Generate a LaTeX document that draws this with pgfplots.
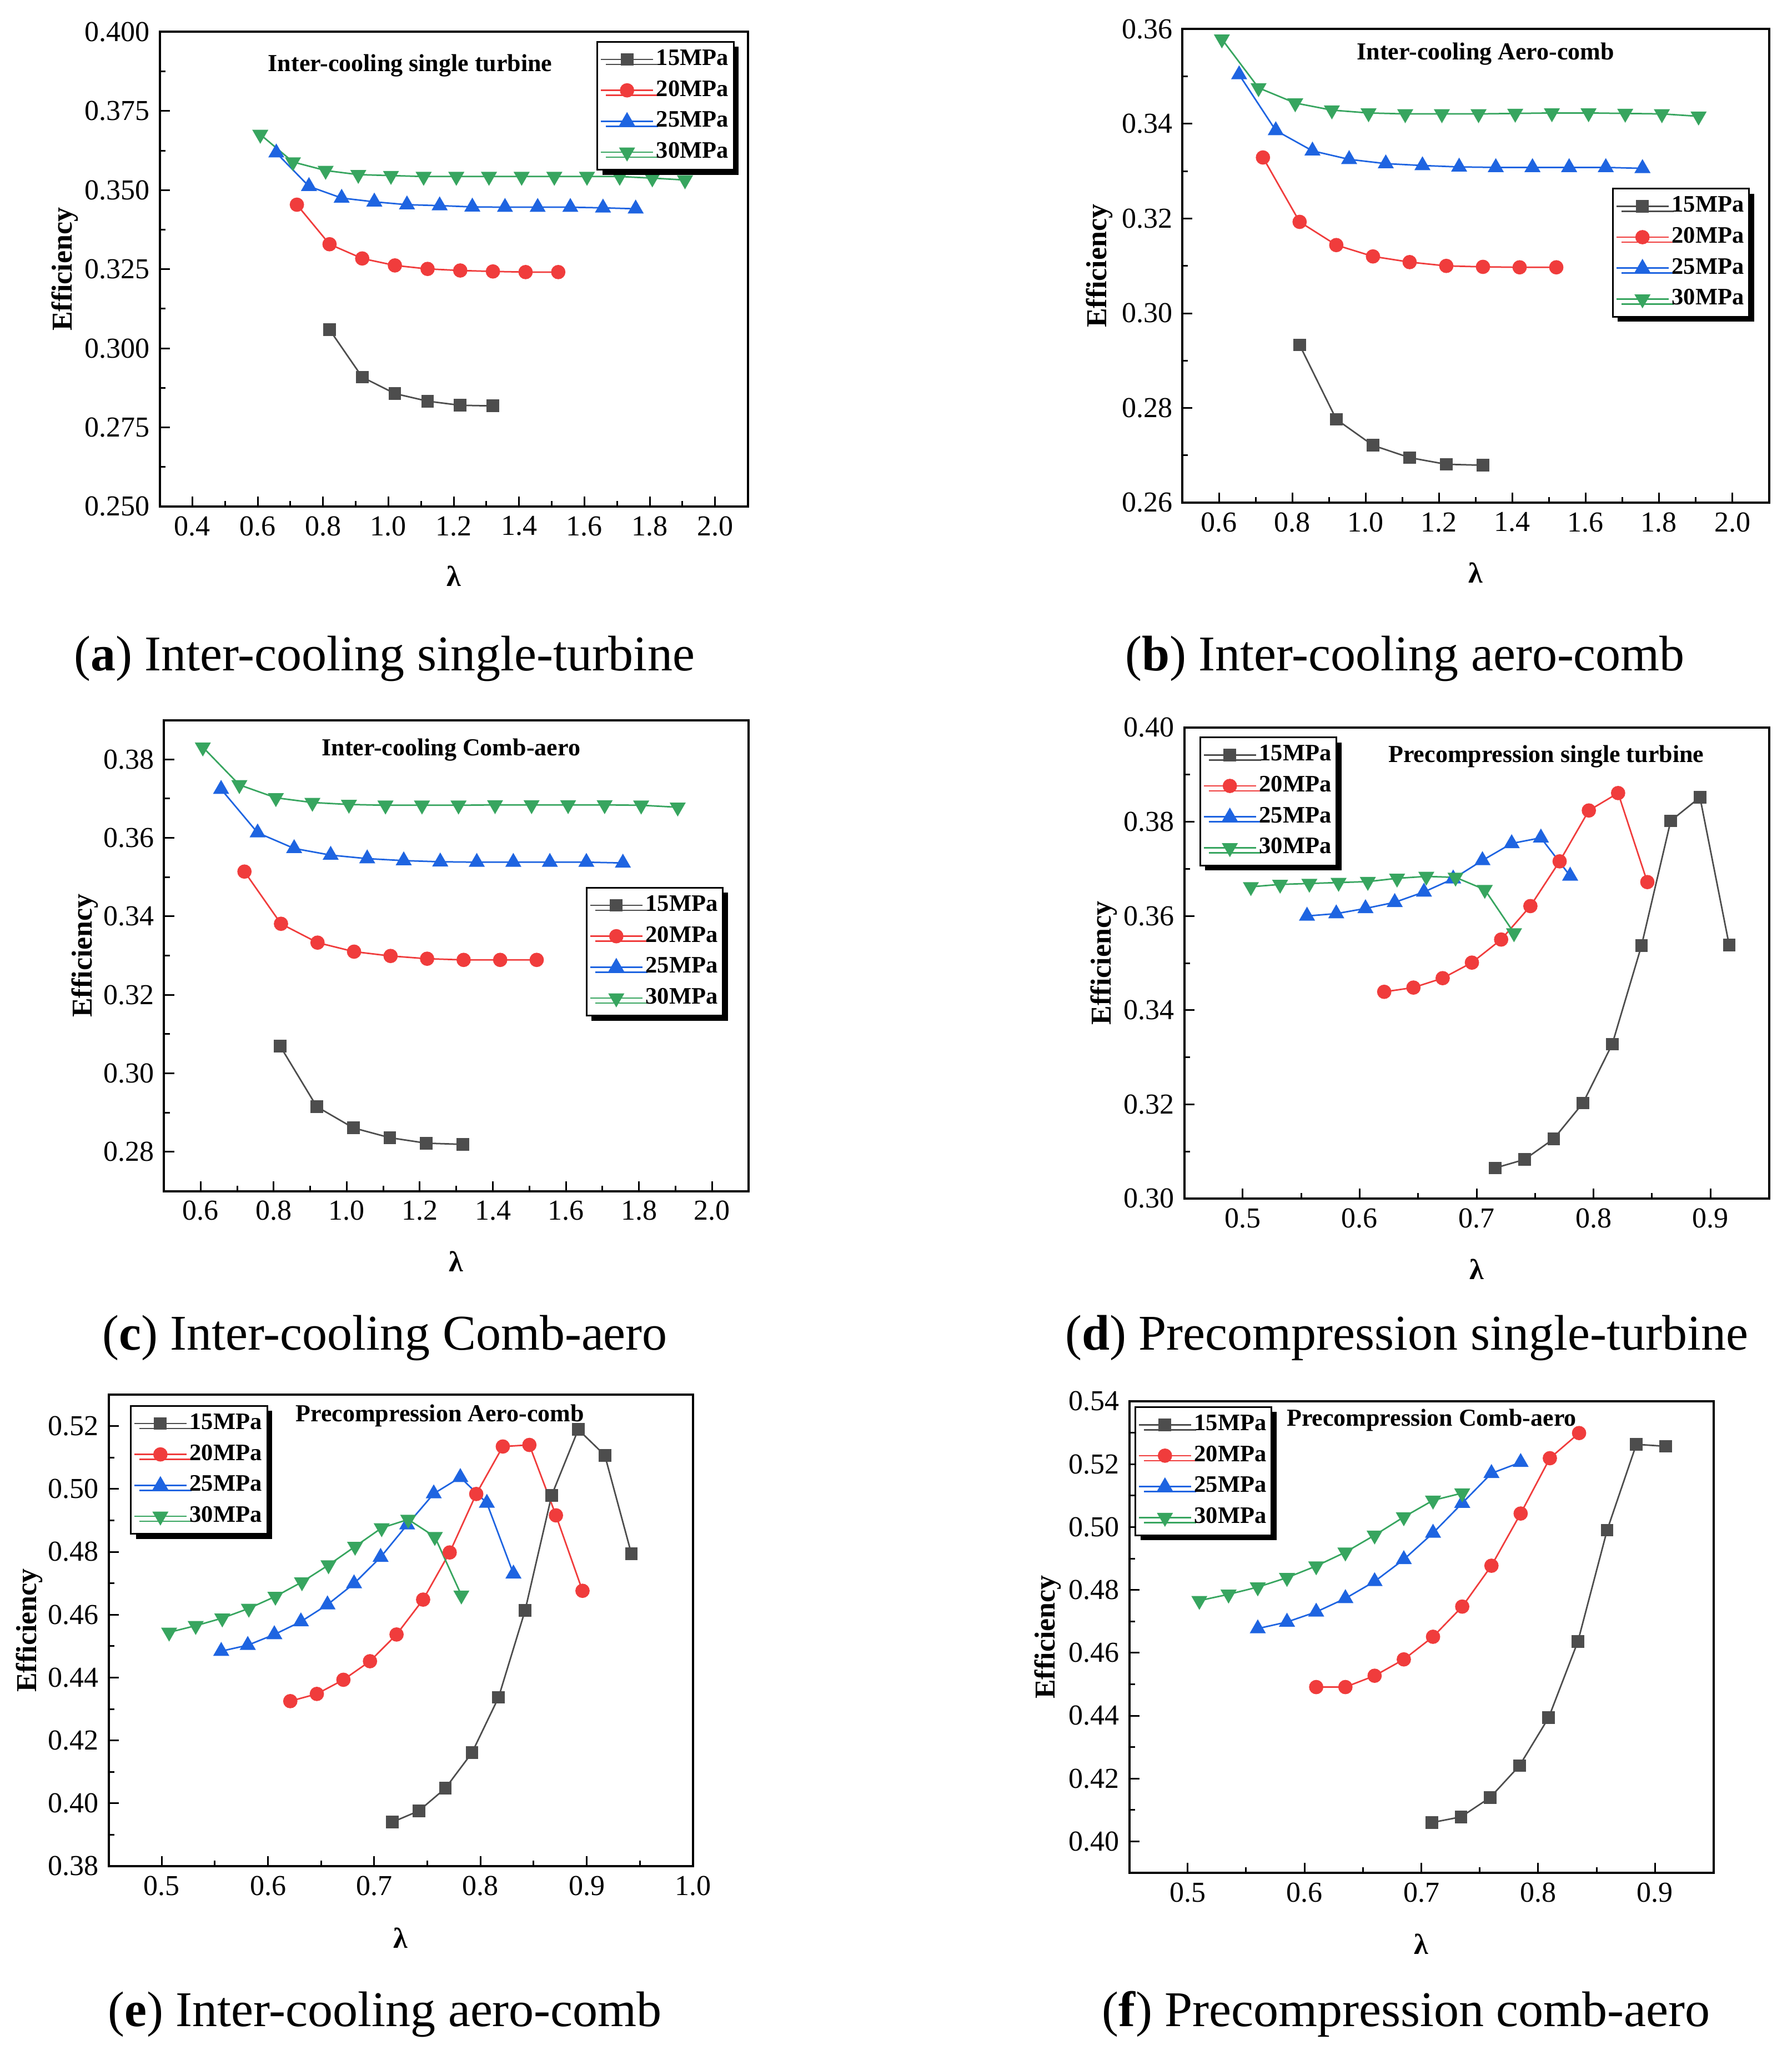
\documentclass[border=0pt]{standalone}
\usepackage{fontspec}
\setmainfont{Liberation Serif}
\usepackage{pgfplots}
\pgfplotsset{compat=1.18}
\usetikzlibrary{shadows}
\definecolor{c15}{RGB}{77,77,77}
\definecolor{c20}{RGB}{240,60,60}
\definecolor{c25}{RGB}{30,100,225}
\definecolor{c30}{RGB}{55,165,95}
\tikzset{ttl/.style={font=\fontsize{8.8}{10}\selectfont\bfseries}}
\pgfplotsset{
  limg/.style={legend image code/.code={\draw[mark repeat=2,mark phase=2,##1] plot coordinates {(0cm,0cm) (0.33cm,0cm) (0.66cm,0cm)};}},
  s15/.style={color=c15, line width=0.55pt, mark=square*, mark size=2.0pt, mark options={solid,fill=c15,draw=c15}, limg},
  s20/.style={color=c20, line width=0.55pt, mark=*, mark size=2.3pt, mark options={solid,fill=c20,draw=c20}, limg},
  s25/.style={color=c25, line width=0.55pt, mark=triangle*, mark size=2.8pt, mark options={solid,fill=c25,draw=c25}, limg},
  s30/.style={color=c30, line width=0.55pt, mark=triangle*, mark size=2.8pt, mark options={solid,fill=c30,draw=c30,rotate=180}, limg},
  myax/.style={
    scale only axis,
    axis line style={line width=0.8pt},
    tick align=inside, xtick pos=bottom, ytick pos=left,
    minor x tick num=1, minor y tick num=1,
    major tick length=3.6pt, minor tick length=2pt,
    tick style={black, line width=0.6pt},
    ticklabel style={font=\fontsize{10.4}{12}\selectfont},
    /pgf/number format/assume math mode=true,
    xticklabel style={/pgf/number format/.cd, fixed, fixed zerofill, precision=1},
    yticklabel style={/pgf/number format/.cd, fixed, fixed zerofill, precision=2},
    xlabel={λ}, ylabel={Efficiency},
    label style={font=\fontsize{10.4}{12}\selectfont\bfseries},
    legend cell align=left,
    legend style={draw=black, line width=0.6pt, fill=white,
      font=\fontsize{8.5}{9}\selectfont\bfseries,
      row sep=0.8pt, inner xsep=1pt, inner ysep=1.2pt, anchor=north west,
      nodes={inner ysep=1.6pt, inner xsep=0.9pt},
      drop shadow={shadow xshift=1.8pt, shadow yshift=-1.8pt, fill=black, opacity=1}},
  },
}
\begin{document}
\begin{tikzpicture}
\useasboundingbox (0,0) rectangle (645.2pt,-738.2pt);
% (a)
\begin{axis}[myax, at={(57.5pt,-182.4pt)}, anchor=south west, width=211.8pt, height=170.9pt,
  xmin=0.3, xmax=2.1, ymin=0.25, ymax=0.40,
  xtick={0.4,0.6,0.8,1.0,1.2,1.4,1.6,1.8,2.0},
  ytick={0.25,0.275,0.3,0.325,0.35,0.375,0.4},
  yticklabel style={/pgf/number format/.cd, fixed, fixed zerofill, precision=3},
  ylabel style={at={(axis description cs:-0.161,0.5)}, anchor=center},
  xlabel style={at={(axis description cs:0.5,-0.147)}, anchor=center},
  legend style={at={(axis description cs:0.743,0.981)}}]
\addplot[s15] coordinates {(0.82,0.3059)(0.92,0.2909)(1.02,0.2857)(1.12,0.2833)(1.22,0.2820)(1.32,0.2818)};
\addplot[s20] coordinates {(0.72,0.3454)(0.82,0.3329)(0.92,0.3284)(1.02,0.3262)(1.12,0.3251)(1.22,0.3246)(1.32,0.3243)(1.42,0.3241)(1.52,0.3241)};
\addplot[s25] coordinates {(0.657,0.3618)(0.757,0.3512)(0.857,0.3475)(0.957,0.3463)(1.057,0.3454)(1.157,0.3451)(1.257,0.3447)(1.357,0.3446)(1.457,0.3446)(1.557,0.3446)(1.657,0.3444)(1.757,0.3441)};
\addplot[s30] coordinates {(0.608,0.3676)(0.708,0.3589)(0.808,0.3562)(0.908,0.3549)(1.008,0.3546)(1.108,0.3543)(1.208,0.3543)(1.308,0.3543)(1.408,0.3543)(1.508,0.3543)(1.608,0.3543)(1.708,0.3543)(1.808,0.3538)(1.908,0.3532)};
\legend{15MPa,20MPa,25MPa,30MPa}
\node[ttl] at (axis description cs:0.426,0.929) {Inter-cooling single turbine};
\end{axis}
% (b)
\begin{axis}[myax, at={(425.8pt,-181pt)}, anchor=south west, width=211.3pt, height=170.5pt,
  xmin=0.5, xmax=2.1, ymin=0.26, ymax=0.36,
  xtick={0.6,0.8,1.0,1.2,1.4,1.6,1.8,2.0},
  ytick={0.26,0.28,0.30,0.32,0.34,0.36},
  ylabel style={at={(axis description cs:-0.141,0.5)}, anchor=center},
  xlabel style={at={(axis description cs:0.5,-0.148)}, anchor=center},
  legend style={at={(axis description cs:0.7325,0.665)}}]
\addplot[s15] coordinates {(0.82,0.2933)(0.92,0.2776)(1.02,0.2721)(1.12,0.2695)(1.22,0.2681)(1.32,0.2679)};
\addplot[s20] coordinates {(0.72,0.3329)(0.82,0.3193)(0.92,0.3144)(1.02,0.3120)(1.12,0.3108)(1.22,0.3100)(1.32,0.3098)(1.42,0.3097)(1.52,0.3097)};
\addplot[s25] coordinates {(0.655,0.3504)(0.755,0.3386)(0.855,0.3343)(0.955,0.3325)(1.055,0.3316)(1.155,0.3312)(1.255,0.3309)(1.355,0.3308)(1.455,0.3308)(1.555,0.3308)(1.655,0.3308)(1.755,0.3306)};
\addplot[s30] coordinates {(0.608,0.3579)(0.708,0.3476)(0.808,0.3444)(0.908,0.3429)(1.008,0.3423)(1.108,0.3421)(1.208,0.3421)(1.308,0.3421)(1.408,0.3422)(1.508,0.3423)(1.608,0.3423)(1.708,0.3422)(1.808,0.3421)(1.908,0.3416)};
\legend{15MPa,20MPa,25MPa,30MPa}
\node[ttl] at (axis description cs:0.517,0.948) {Inter-cooling Aero-comb};
\end{axis}
% (c)
\begin{axis}[myax, at={(59.1pt,-428.9pt)}, anchor=south west, width=210.5pt, height=169.6pt,
  xmin=0.5, xmax=2.1, ymin=0.27, ymax=0.39,
  xtick={0.6,0.8,1.0,1.2,1.4,1.6,1.8,2.0},
  ytick={0.28,0.30,0.32,0.34,0.36,0.38},
  ylabel style={at={(axis description cs:-0.136,0.5)}, anchor=center},
  xlabel style={at={(axis description cs:0.5,-0.149)}, anchor=center},
  legend style={at={(axis description cs:0.7216,0.646)}}]
\addplot[s15] coordinates {(0.818,0.3069)(0.918,0.2915)(1.018,0.2861)(1.118,0.2836)(1.218,0.2822)(1.318,0.2819)};
\addplot[s20] coordinates {(0.72,0.3514)(0.82,0.3381)(0.92,0.3333)(1.02,0.3310)(1.12,0.3299)(1.22,0.3292)(1.32,0.3289)(1.42,0.3289)(1.52,0.3289)};
\addplot[s25] coordinates {(0.656,0.3724)(0.756,0.3613)(0.856,0.3573)(0.956,0.3556)(1.056,0.3547)(1.156,0.3542)(1.256,0.3539)(1.356,0.3538)(1.456,0.3538)(1.556,0.3538)(1.656,0.3538)(1.756,0.3536)};
\addplot[s30] coordinates {(0.606,0.3831)(0.706,0.3735)(0.806,0.3702)(0.906,0.3690)(1.006,0.3685)(1.106,0.3683)(1.206,0.3683)(1.306,0.3683)(1.406,0.3684)(1.506,0.3684)(1.606,0.3684)(1.706,0.3684)(1.806,0.3683)(1.906,0.3678)};
\legend{15MPa,20MPa,25MPa,30MPa}
\node[ttl] at (axis description cs:0.491,0.937) {Inter-cooling Comb-aero};
\end{axis}
% (d)
\begin{axis}[myax, at={(426.5pt,-431.6pt)}, anchor=south west, width=210.6pt, height=169.6pt,
  xmin=0.45, xmax=0.95, ymin=0.30, ymax=0.40,
  xtick={0.5,0.6,0.7,0.8,0.9},
  ytick={0.30,0.32,0.34,0.36,0.38,0.40},
  ylabel style={at={(axis description cs:-0.137,0.5)}, anchor=center},
  xlabel style={at={(axis description cs:0.5,-0.15)}, anchor=center},
  legend style={at={(axis description cs:0.026,0.981)}}]
\addplot[s15] coordinates {(0.716,0.3065)(0.741,0.3083)(0.766,0.3127)(0.791,0.3203)(0.816,0.3328)(0.841,0.3537)(0.866,0.3802)(0.891,0.3852)(0.916,0.3538)};
\addplot[s20] coordinates {(0.621,0.3439)(0.646,0.3448)(0.671,0.3468)(0.696,0.3501)(0.721,0.3550)(0.746,0.3621)(0.771,0.3716)(0.796,0.3824)(0.821,0.3861)(0.846,0.3672)};
\addplot[s25] coordinates {(0.555,0.3600)(0.580,0.3605)(0.605,0.3616)(0.630,0.3629)(0.655,0.3651)(0.680,0.3679)(0.705,0.3718)(0.730,0.3754)(0.755,0.3766)(0.780,0.3685)};
\addplot[s30] coordinates {(0.507,0.3662)(0.532,0.3667)(0.557,0.3669)(0.582,0.3671)(0.607,0.3673)(0.632,0.3680)(0.657,0.3684)(0.682,0.3682)(0.707,0.3656)(0.732,0.3564)};
\legend{15MPa,20MPa,25MPa,30MPa}
\node[ttl] at (axis description cs:0.619,0.938) {Precompression single turbine};
\end{axis}
% (e)
\begin{axis}[myax, at={(39.1pt,-672pt)}, anchor=south west, width=210.5pt, height=169.8pt,
  xmin=0.45, xmax=1.0, ymin=0.38, ymax=0.53,
  xtick={0.5,0.6,0.7,0.8,0.9,1.0},
  ytick={0.38,0.40,0.42,0.44,0.46,0.48,0.50,0.52},
  ylabel style={at={(axis description cs:-0.136,0.5)}, anchor=center},
  xlabel style={at={(axis description cs:0.5,-0.152)}, anchor=center},
  legend style={at={(axis description cs:0.0366,0.978)}}]
\addplot[s15] coordinates {(0.717,0.3940)(0.742,0.3976)(0.767,0.4048)(0.792,0.4161)(0.817,0.4337)(0.842,0.4614)(0.867,0.4980)(0.892,0.5189)(0.917,0.5107)(0.942,0.4794)};
\addplot[s20] coordinates {(0.621,0.4325)(0.646,0.4348)(0.671,0.4393)(0.696,0.4452)(0.721,0.4537)(0.746,0.4648)(0.771,0.4798)(0.796,0.4984)(0.821,0.5135)(0.846,0.5140)(0.871,0.4916)(0.896,0.4676)};
\addplot[s25] coordinates {(0.556,0.4484)(0.581,0.4503)(0.606,0.4537)(0.631,0.4578)(0.656,0.4632)(0.681,0.4699)(0.706,0.4783)(0.731,0.4886)(0.756,0.4985)(0.781,0.5037)(0.806,0.4955)(0.831,0.4730)};
\addplot[s30] coordinates {(0.507,0.4544)(0.532,0.4565)(0.557,0.4589)(0.582,0.4620)(0.607,0.4658)(0.632,0.4704)(0.657,0.4758)(0.682,0.4817)(0.707,0.4876)(0.732,0.4903)(0.757,0.4848)(0.782,0.4662)};
\legend{15MPa,20MPa,25MPa,30MPa}
\node[ttl] at (axis description cs:0.567,0.955) {Precompression Aero-comb};
\end{axis}
% (f)
\begin{axis}[myax, at={(406.7pt,-674.4pt)}, anchor=south west, width=210.4pt, height=169.8pt,
  xmin=0.45, xmax=0.95, ymin=0.39, ymax=0.54,
  xtick={0.5,0.6,0.7,0.8,0.9},
  ytick={0.40,0.42,0.44,0.46,0.48,0.50,0.52,0.54},
  ylabel style={at={(axis description cs:-0.139,0.5)}, anchor=center},
  xlabel style={at={(axis description cs:0.5,-0.151)}, anchor=center},
  legend style={at={(axis description cs:0.009,0.9895)}}]
\addplot[s15] coordinates {(0.709,0.4060)(0.734,0.4078)(0.759,0.4140)(0.784,0.4241)(0.809,0.4394)(0.834,0.4636)(0.859,0.4990)(0.884,0.5263)(0.909,0.5257)};
\addplot[s20] coordinates {(0.610,0.4491)(0.635,0.4491)(0.660,0.4527)(0.685,0.4579)(0.710,0.4651)(0.735,0.4747)(0.760,0.4877)(0.785,0.5043)(0.810,0.5219)(0.835,0.5299)};
\addplot[s25] coordinates {(0.560,0.4677)(0.585,0.4698)(0.610,0.4730)(0.635,0.4773)(0.660,0.4827)(0.685,0.4897)(0.710,0.4981)(0.735,0.5076)(0.760,0.5171)(0.785,0.5206)};
\addplot[s30] coordinates {(0.510,0.4766)(0.535,0.4786)(0.560,0.4809)(0.585,0.4839)(0.610,0.4876)(0.635,0.4920)(0.660,0.4974)(0.685,0.5032)(0.710,0.5085)(0.735,0.5108)};
\legend{15MPa,20MPa,25MPa,30MPa}
\node[ttl] at (axis description cs:0.5176,0.96) {Precompression Comb-aero};
\end{axis}
% captions
\begin{scope}[every node/.style={anchor=base, font=\fontsize{18}{20}\selectfont}]
\node at (138.4pt,-241.4pt) {(\textbf{a}) Inter-cooling single-turbine};
\node at (506pt,-241.4pt) {(\textbf{b}) Inter-cooling aero-comb};
\node at (138.6pt,-486pt) {(\textbf{c}) Inter-cooling Comb-aero};
\node at (506.6pt,-486pt) {(\textbf{d}) Precompression single-turbine};
\node at (138.6pt,-729.6pt) {(\textbf{e}) Inter-cooling aero-comb};
\node at (506.4pt,-729.6pt) {(\textbf{f}) Precompression comb-aero};
\end{scope}
\end{tikzpicture}
\end{document}
